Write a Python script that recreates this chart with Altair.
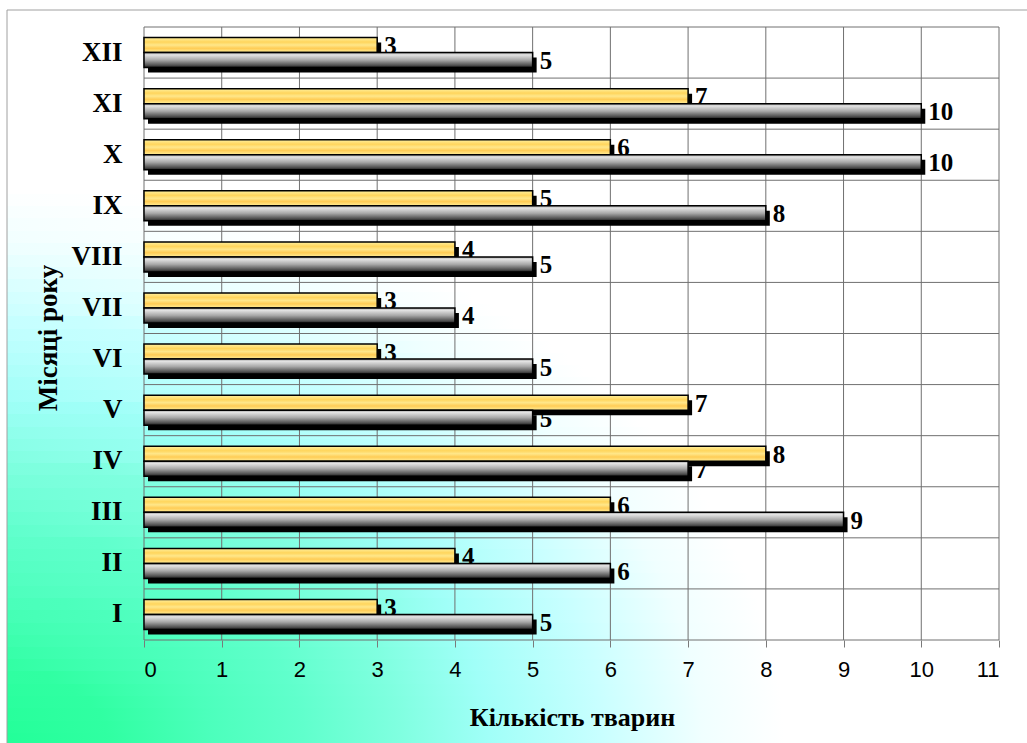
import math
import altair as alt
import pandas as pd

months = ["I", "II", "III", "IV", "V", "VI", "VII", "VIII", "IX", "X", "XI", "XII"]
series_yellow = [3, 4, 6, 8, 7, 3, 3, 4, 5, 6, 7, 3]
series_gray = [5, 6, 9, 7, 5, 5, 4, 5, 8, 10, 10, 5]
x_ticks = list(range(0, 12))

W, H = 855, 613
BAR_H = 15
SERIF = "Times New Roman, Liberation Serif, serif"
SANS = "Arial, Liberation Sans, sans-serif"

df = pd.DataFrame({"month": months, "yellow": series_yellow, "gray": series_gray})
ticks_df = pd.DataFrame({"t": x_ticks})

y_enc = alt.Y("month:N", sort=months[::-1],
              scale=alt.Scale(paddingInner=0, paddingOuter=0),
              axis=alt.Axis(title="Місяці року", domain=False, ticks=False, grid=False,
                            labelFont=SERIF, labelFontWeight="bold", labelFontSize=27,
                            labelColor="black", labelPadding=22,
                            titleFont=SERIF, titleFontWeight="bold", titleFontSize=27,
                            titleColor="black", titleX=-96, titleY=H / 2 + 4, titleAngle=-90,
                            titleAlign="center", titleBaseline="middle", zindex=1))

x_scale = alt.Scale(domain=[0, 11], nice=False, zero=True)
x_axis = alt.Axis(title="Кількість тварин", values=x_ticks, format="d", domain=False, grid=False,
                  ticks=True, tickSize=7, tickColor="#7a7a7a", tickWidth=1,
                  labelFont=SANS, labelFontSize=22, labelColor="black", labelPadding=12,
                  titleFont=SERIF, titleFontWeight="bold", titleFontSize=26,
                  titleColor="black", titleX=428, titleY=85, titleBaseline="alphabetic",
                  titleAlign="center", zindex=1)

# background: elliptical "from corner" gradient, built from horizontal strips
bg_stops = [
    ("#22ff98", 0.0), ("#30ffa2", 0.1), ("#4cffbc", 0.2), ("#60ffcc", 0.29),
    ("#80ffe0", 0.385), ("#a0fff8", 0.47), ("#c8ffff", 0.58), ("#f0ffff", 0.68),
    ("#ffffff", 0.76),
]


def hex2rgb(h):
    return [int(h[i:i + 2], 16) for i in (1, 3, 5)]


def color_at(s):
    if s >= bg_stops[-1][1]:
        return bg_stops[-1][0]
    for (c0, s0), (c1, s1) in zip(bg_stops[:-1], bg_stops[1:]):
        if s0 <= s <= s1:
            t = (s - s0) / (s1 - s0)
            a, b = hex2rgb(c0), hex2rgb(c1)
            return "#" + "".join(f"{round(x + (y - x) * t):02x}" for x, y in zip(a, b))
    return bg_stops[0][0]


BG_X0, BG_X1, BG_Y0, BG_Y1 = -137, W + 30, -17, H + 105
N_STRIPS = 60
edges = [round(BG_Y0 + k * (BG_Y1 - BG_Y0) / N_STRIPS) for k in range(N_STRIPS + 1)]

base = alt.Chart(df)
one = base.transform_filter("datum.month == 'I'")

bg_layers = []
for k in range(N_STRIPS):
    y_top, y_bot = edges[k], edges[k + 1]
    wc = (BG_Y1 - (y_top + y_bot) / 2) / (BG_Y1 - BG_Y0)
    if wc >= bg_stops[-1][1]:
        fill = "#ffffff"
    else:
        stops = [alt.GradientStop(color=color_at(wc), offset=0)]
        for c, s in bg_stops:
            if s > wc:
                stops.append(alt.GradientStop(color=c, offset=min(1.0, math.sqrt(s * s - wc * wc))))
        stops.append(alt.GradientStop(color="#ffffff", offset=1))
        fill = alt.Gradient(gradient="linear", x1=0, y1=0, x2=1, y2=0, stops=stops)
    bg_layers.append(one.mark_rect(fill=fill, strokeWidth=0).encode(
        x=alt.value(BG_X0), x2=alt.value(BG_X1),
        y=alt.value(y_top), y2=alt.value(min(BG_Y1, y_bot + 1))))

border = one.mark_rect(fill=None, stroke="#a0a0a0", strokeWidth=1).encode(
    x=alt.value(BG_X0), x2=alt.value(BG_X1), y=alt.value(BG_Y0), y2=alt.value(BG_Y1))

yellow_grad = alt.Gradient(gradient="linear", x1=0, y1=0, x2=0, y2=1, stops=[
    alt.GradientStop(color="#fff1a0", offset=0),
    alt.GradientStop(color="#ffd55c", offset=0.3),
    alt.GradientStop(color="#ffe78a", offset=0.5),
    alt.GradientStop(color="#ffcc55", offset=0.72),
    alt.GradientStop(color="#ffee98", offset=1),
])

gray_grad = alt.Gradient(gradient="linear", x1=0, y1=0, x2=0, y2=1, stops=[
    alt.GradientStop(color="#9a9a9a", offset=0),
    alt.GradientStop(color="#e4e4e4", offset=0.15),
    alt.GradientStop(color="#a8a8a8", offset=0.5),
    alt.GradientStop(color="#505050", offset=0.85),
    alt.GradientStop(color="#1e1e1e", offset=1),
])

vgrid = alt.Chart(ticks_df).mark_rule(color="#707070", strokeWidth=1).encode(
    x=alt.X("t:Q", scale=x_scale, axis=x_axis),
    y=alt.value(0), y2=alt.value(H))

hgrid = base.mark_rule(color="#707070", strokeWidth=1).encode(
    y=alt.Y("month:N", sort=months[::-1], bandPosition=0,
            scale=alt.Scale(paddingInner=0, paddingOuter=0)),
    x=alt.value(0), x2=alt.value(W))

hgrid_bottom = one.mark_rule(color="#707070", strokeWidth=1).encode(
    y=alt.value(H), x=alt.value(0), x2=alt.value(W))

label_y = base.mark_text(align="left", baseline="middle", dx=7, dy=1,
                         font=SERIF, fontWeight="bold", fontSize=25,
                         color="black", yOffset=-BAR_H / 2).encode(
    x=alt.X("yellow:Q", scale=x_scale), y=y_enc, text="yellow:Q")
label_g = base.mark_text(align="left", baseline="middle", dx=7, dy=1,
                         font=SERIF, fontWeight="bold", fontSize=25,
                         color="black", yOffset=BAR_H / 2).encode(
    x=alt.X("gray:Q", scale=x_scale), y=y_enc, text="gray:Q")

shadow_y = base.mark_bar(height=BAR_H, color="black", xOffset=4, x2Offset=4,
                         yOffset=-BAR_H / 2 + 5, y2Offset=-BAR_H / 2 + 5).encode(
    x=alt.X("yellow:Q", scale=x_scale), y=y_enc)
bar_y = base.mark_bar(height=BAR_H, fill=yellow_grad, stroke="black", strokeWidth=1.5,
                      yOffset=-BAR_H / 2, y2Offset=-BAR_H / 2).encode(
    x=alt.X("yellow:Q", scale=x_scale), y=y_enc)
shadow_g = base.mark_bar(height=BAR_H, color="black", xOffset=4, x2Offset=4,
                         yOffset=BAR_H / 2 + 5, y2Offset=BAR_H / 2 + 5).encode(
    x=alt.X("gray:Q", scale=x_scale), y=y_enc)
bar_g = base.mark_bar(height=BAR_H, fill=gray_grad, stroke="black", strokeWidth=1.5,
                      yOffset=BAR_H / 2, y2Offset=BAR_H / 2).encode(
    x=alt.X("gray:Q", scale=x_scale), y=y_enc)

chart = alt.layer(*bg_layers, border, vgrid, hgrid, hgrid_bottom, label_y, label_g,
                  shadow_y, bar_y, shadow_g, bar_g).properties(
    width=W, height=H,
    autosize=alt.AutoSizeParams(type="none"),
    padding={"left": 144, "top": 27, "right": 28, "bottom": 103},
    background="white",
).configure_view(stroke=None)

chart.save("out.html", embed_options={"renderer": "svg", "actions": False})
